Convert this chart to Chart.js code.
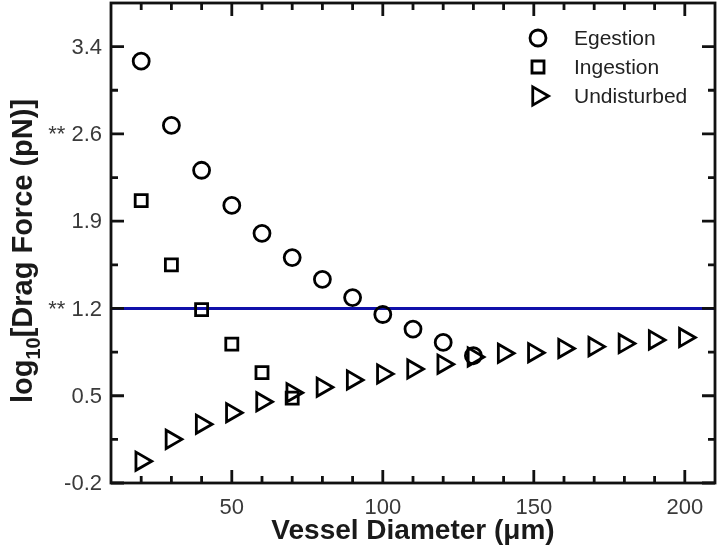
<!DOCTYPE html>
<html>
<head>
<meta charset="utf-8">
<script src="https://cdn.jsdelivr.net/npm/chart.js@4.4.0/dist/chart.umd.min.js"></script>
<style>
  html, body { margin: 0; padding: 0; background: #fff; }
  #wrap { width: 720px; height: 558px; }
</style>
</head>
<body>
<div id="wrap"><canvas id="c"></canvas></div>
<script>
// x values (vessel diameter, um)
const egestionX = [20, 30, 40, 50, 60, 70, 80, 90, 100, 110, 120, 130];
const ingestionX = [20, 30, 40, 50, 60, 70];
const undisturbedX = [20, 30, 40, 50, 60, 70, 80, 90, 100, 110, 120, 130, 140, 150, 160, 170, 180, 190, 200];

// log10 drag force values
const egestion = [3.28, 2.75, 2.38, 2.09, 1.86, 1.66, 1.48, 1.33, 1.19, 1.07, 0.96, 0.85];
const ingestion = [2.13, 1.60, 1.23, 0.945, 0.71, 0.50];
const undisturbed = [-0.02, 0.16, 0.285, 0.38, 0.47, 0.545, 0.59, 0.65, 0.70, 0.74, 0.78, 0.84, 0.87, 0.875, 0.91, 0.925, 0.95, 0.98, 1.0];

const thresholdY = 1.24;
const xRange = [10, 210];
const yRange = [-0.2, 3.76];

const xMajorTicks = [50, 100, 150, 200];
const xMinorTicks = [20, 30, 40, 60, 70, 80, 90, 110, 120, 130, 140, 160, 170, 180, 190];
const yTickValues = [-0.2, 0.52, 1.24, 1.96, 2.68, 3.4];
const yTickLabels = ['-0.2', '0.5', '** 1.2', '1.9', '** 2.6', '3.4'];
const yMinorTicks = [0.16, 0.88, 1.6, 2.32, 3.04];

const seriesNames = ['Egestion', 'Ingestion', 'Undisturbed'];

function pts(xs, ys) {
  return xs.map((x, i) => ({ x: x, y: ys[i] }));
}

const FONT = "Arial, 'Liberation Sans', sans-serif";

// frame with inward ticks on all four sides, plus tick labels
const framePlugin = {
  id: 'frame',
  afterDatasetsDraw(chart) {
    const ctx = chart.ctx;
    const a = chart.chartArea;
    const xs = chart.scales.x, ys = chart.scales.y;
    ctx.save();
    ctx.strokeStyle = '#111';
    ctx.lineWidth = 2.8;
    ctx.beginPath();
    const tick = (x1, y1, x2, y2) => { ctx.moveTo(x1, y1); ctx.lineTo(x2, y2); };
    xMajorTicks.forEach(v => {
      const p = xs.getPixelForValue(v);
      tick(p, a.bottom, p, a.bottom - 13);
      tick(p, a.top, p, a.top + 13);
    });
    xMinorTicks.forEach(v => {
      const p = xs.getPixelForValue(v);
      tick(p, a.bottom, p, a.bottom - 7);
      tick(p, a.top, p, a.top + 7);
    });
    yTickValues.forEach(v => {
      const p = ys.getPixelForValue(v);
      tick(a.left, p, a.left + 13, p);
      tick(a.right, p, a.right - 13, p);
    });
    yMinorTicks.forEach(v => {
      const p = ys.getPixelForValue(v);
      tick(a.left, p, a.left + 7, p);
      tick(a.right, p, a.right - 7, p);
    });
    ctx.stroke();
    ctx.strokeRect(a.left, a.top, a.right - a.left, a.bottom - a.top);

    // tick labels
    ctx.fillStyle = '#3a3a3a';
    ctx.font = '22px ' + FONT;
    ctx.textAlign = 'right';
    ctx.textBaseline = 'middle';
    yTickValues.forEach((v, i) => {
      ctx.fillText(yTickLabels[i], a.left - 9, ys.getPixelForValue(v) + 1);
    });
    ctx.textAlign = 'center';
    xMajorTicks.forEach(v => {
      ctx.fillText(String(v), xs.getPixelForValue(v), a.bottom + 25);
    });
    ctx.restore();
  }
};

// legend in the top right corner of the plot
const legendPlugin = {
  id: 'cornerLegend',
  afterDraw(chart) {
    const ctx = chart.ctx;
    const a = chart.chartArea;
    ctx.save();
    ctx.font = '21px ' + FONT;
    ctx.textBaseline = 'middle';
    ctx.textAlign = 'left';
    seriesNames.forEach((name, i) => {
      const ds = chart.data.datasets[i];
      const y = a.top + 35 + i * 29;
      const x = a.right - 177;
      ctx.strokeStyle = '#000';
      ctx.fillStyle = 'rgba(0,0,0,0)';
      ctx.lineWidth = ds.borderWidth;
      Chart.helpers.drawPoint(ctx, {
        pointStyle: ds.pointStyle,
        radius: ds.pointRadius,
        rotation: ds.pointRotation || 0,
        borderWidth: ds.borderWidth
      }, x, y);
      ctx.fillStyle = '#222';
      ctx.fillText(name, a.right - 141, y + 1);
    });
    ctx.restore();
  }
};

// rotated y title with a real subscript
const yTitlePlugin = {
  id: 'yTitle',
  afterDraw(chart) {
    const ctx = chart.ctx;
    const a = chart.chartArea;
    const parts = [
      { t: 'log', f: 'bold 29px ' + FONT, dy: 0 },
      { t: '10', f: 'bold 20px ' + FONT, dy: 8 },
      { t: '[Drag Force (pN)]', f: 'bold 29px ' + FONT, dy: 0 }
    ];
    ctx.save();
    let total = 0;
    parts.forEach(p => { ctx.font = p.f; p.w = ctx.measureText(p.t).width; total += p.w; });
    ctx.translate(32, (a.top + a.bottom) / 2 + 8);
    ctx.rotate(-Math.PI / 2);
    ctx.fillStyle = '#1a1a1a';
    ctx.textBaseline = 'alphabetic';
    ctx.textAlign = 'left';
    let x = -total / 2;
    parts.forEach(p => {
      ctx.font = p.f;
      ctx.fillText(p.t, x, p.dy);
      x += p.w;
    });
    ctx.restore();
  }
};

new Chart(document.getElementById('c'), {
  type: 'scatter',
  data: {
    datasets: [
      {
        label: seriesNames[0],
        data: pts(egestionX, egestion),
        pointStyle: 'circle',
        pointRadius: 8,
        borderColor: '#000',
        backgroundColor: 'rgba(0,0,0,0)',
        borderWidth: 2.8,
        order: 1
      },
      {
        label: seriesNames[1],
        data: pts(ingestionX, ingestion),
        pointStyle: 'rect',
        pointRadius: 8.5,
        borderColor: '#000',
        backgroundColor: 'rgba(0,0,0,0)',
        borderWidth: 2.8,
        order: 2
      },
      {
        label: seriesNames[2],
        data: pts(undisturbedX, undisturbed),
        pointStyle: 'triangle',
        pointRotation: 90,
        pointRadius: 10.5,
        borderColor: '#000',
        backgroundColor: 'rgba(0,0,0,0)',
        borderWidth: 2.8,
        order: 3
      },
      {
        type: 'line',
        label: 'threshold',
        data: pts(xRange, [thresholdY, thresholdY]),
        borderColor: '#1010aa',
        borderWidth: 3,
        pointRadius: 0,
        order: 10
      }
    ]
  },
  options: {
    responsive: true,
    maintainAspectRatio: false,
    animation: false,
    layout: { autoPadding: false, padding: { top: 3, right: 5 } },
    plugins: { legend: { display: false }, tooltip: { enabled: false } },
    scales: {
      x: {
        type: 'linear',
        min: xRange[0],
        max: xRange[1],
        border: { display: false },
        grid: { display: false, drawTicks: false },
        ticks: { display: false },
        afterFit: s => { s.height = 75; },
        title: {
          display: true,
          text: 'Vessel Diameter (μm)',
          color: '#1a1a1a',
          font: { size: 28, weight: 'bold', family: FONT },
          padding: { top: 0, bottom: 10 }
        }
      },
      y: {
        type: 'linear',
        min: yRange[0],
        max: yRange[1],
        border: { display: false },
        grid: { display: false, drawTicks: false },
        ticks: { display: false },
        afterFit: s => { s.width = 111; }
      }
    }
  },
  plugins: [framePlugin, legendPlugin, yTitlePlugin]
});
</script>
</body>
</html>
